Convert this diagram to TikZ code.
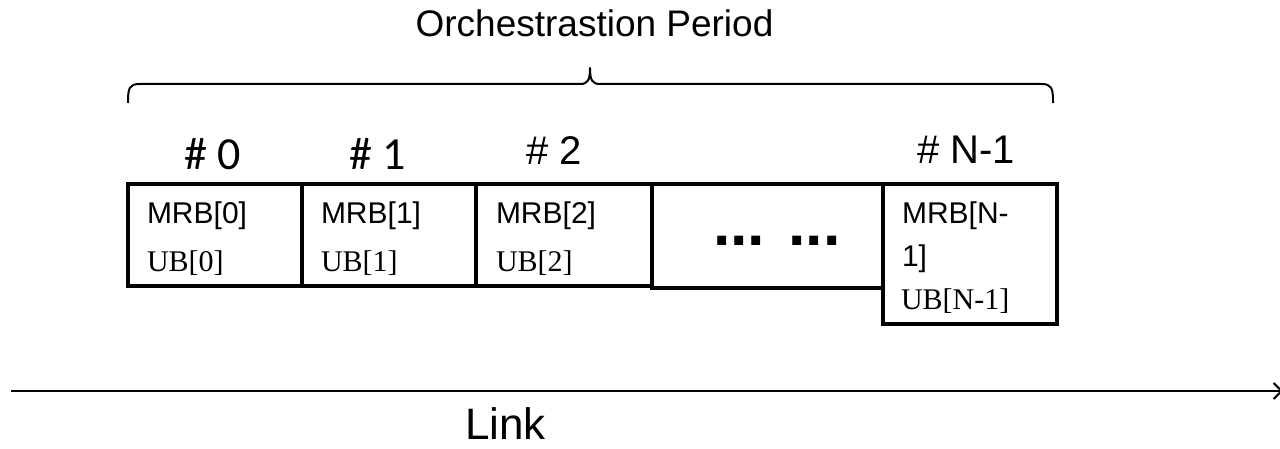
\documentclass[tikz,border=0pt]{standalone}
\usepackage{fontspec}
\setmainfont{Liberation Sans}
\newfontfamily\arialfont{Liberation Sans}
\newfontfamily\serffont{Liberation Serif}
\newfontfamily\calibfont{Carlito}
\usetikzlibrary{arrows.meta}

\newcommand{\fsz}[1]{\fontsize{#1}{1.2\dimexpr#1pt\relax}\selectfont}

\tikzset{
  cell/.style={draw, line width=3pt, inner sep=0pt, outer sep=0pt},
  txt/.style={inner sep=0pt, outer sep=0pt, anchor=base west},
  mrb/.style={txt, font=\arialfont\fsz{22.5}},
  ub/.style={txt, font=\serffont\fsz{22.5}},
  idxa/.style={txt, font=\calibfont\fsz{34.5}},
  idxb/.style={txt, font=\arialfont\fsz{30}},
  brace/.style={line width=1.5pt, line join=round},
  linkarrow/.style={line width=1.8pt, -{Straight Barb[length=6pt, width=12pt, line width=1.5pt]}}
}

\begin{document}
\begin{tikzpicture}[x=0.75pt, y=-0.75pt]
  \useasboundingbox (0,0) rectangle (1280,449);

  % title and brace over the whole period
  \node[inner sep=0pt, anchor=base, font=\arialfont\fsz{27.75}] (title) at (594.5,37) {Orchestrastion Period};
  \draw[brace] (128,103) .. controls (128,88) and (129,84) .. (140,84) -- (580,84)
     .. controls (588,84) and (590,80) .. (590,68)
     .. controls (590,80) and (592,84) .. (600,84) -- (1041,84)
     .. controls (1052,84) and (1053,88) .. (1053,103);

  % slot boxes
  \node[cell, minimum width=130.5pt, minimum height=76.5pt] (b0) at (215,235) {};
  \node[cell, minimum width=130.5pt, minimum height=76.5pt] (b1) at (389,235) {};
  \node[cell, minimum width=132pt, minimum height=76.5pt] (b2) at (564,235) {};
  \node[cell, minimum width=173.25pt, minimum height=78pt] (bd) at (767.5,236) {};
  \node[cell, minimum width=130.5pt, minimum height=105pt] (bn) at (970,254) {};

  % slot indices
  \node[idxa] (i0) at (184,170) {\# 0};
  \node[idxa] (i1) at (349,170) {\# 1};
  \node[idxb] (i2) at (526,165) {\# 2};
  \node[idxb] (in) at (917,163) {\# N-1};

  % slot contents
  \node[mrb] (m0) at (147,223) {MRB[0]};
  \node[ub]  (u0) at (147,271) {UB[0]};
  \node[mrb] (m1) at (321,223) {MRB[1]};
  \node[ub]  (u1) at (321,271) {UB[1]};
  \node[mrb] (m2) at (496,223) {MRB[2]};
  \node[ub]  (u2) at (496,271) {UB[2]};
  \node[txt, font=\arialfont\bfseries\fsz{47}] (dots) at (713,245) {... ...};
  \node[mrb] (mn) at (902,223) {MRB[N-};
  \node[mrb] (mn2) at (902,266) {1]};
  \node[ub]  (un) at (901,309) {UB[N-1]};

  % link timeline
  \coordinate (ls) at (11,391);
  \coordinate (le) at (1283,391);
  \draw[linkarrow] (ls) -- (le);
  \node[txt, font=\arialfont\fsz{33}] (link) at (465,439) {Link};
\end{tikzpicture}
\end{document}
